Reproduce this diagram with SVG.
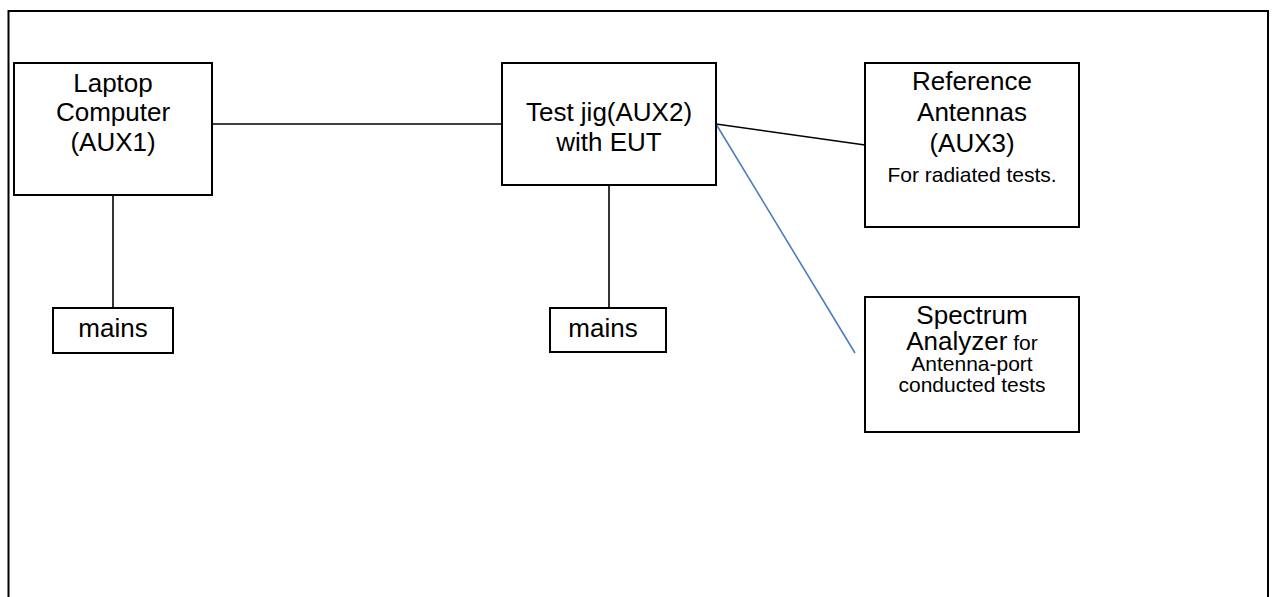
<svg xmlns="http://www.w3.org/2000/svg" width="1273" height="597" viewBox="0 0 1273 597">
<style>
.box{fill:#fff;stroke:#000;stroke-width:2}
.big{font-family:"Liberation Sans",Arial,sans-serif;font-size:26px;fill:#000;text-anchor:middle}
.sm{font-family:"Liberation Sans",Arial,sans-serif;font-size:21px;fill:#000;text-anchor:middle}
.ln{stroke:#000;stroke-width:1.6;fill:none}
.blue{stroke:#4a7ebb;stroke-width:1.6;fill:none}
</style>
<rect width="1273" height="597" fill="#fff"/>
<path d="M8.5,600 V11 H1268 V600" fill="none" stroke="#000" stroke-width="2"/>
<g id="connectors">
<line class="ln" x1="212" y1="124" x2="502" y2="124"/>
<line class="ln" x1="113" y1="195" x2="113" y2="308"/>
<line class="ln" x1="609" y1="185" x2="609" y2="308"/>
<line class="ln" x1="716" y1="124" x2="865" y2="145"/>
<line class="blue" x1="716" y1="124" x2="855" y2="353"/>
</g>
<g id="laptop">
<rect class="box" x="14" y="63" width="198" height="132"/>
<text class="big" x="113" y="91.5">Laptop</text>
<text class="big" x="113" y="121">Computer</text>
<text class="big" x="113" y="151">(AUX1)</text>
</g>
<g id="testjig">
<rect class="box" x="502" y="63" width="214" height="122"/>
<text class="big" x="609" y="121">Test jig(AUX2)</text>
<text class="big" x="609" y="151">with EUT</text>
</g>
<g id="antennas">
<rect class="box" x="865" y="63" width="214" height="164"/>
<text class="big" x="972" y="89.5">Reference</text>
<text class="big" x="972" y="121">Antennas</text>
<text class="big" x="972" y="151.5">(AUX3)</text>
<text class="sm" x="972" y="181.5">For radiated tests.</text>
</g>
<g id="spectrum">
<rect class="box" x="865" y="297" width="214" height="135"/>
<text class="big" x="972" y="324">Spectrum</text>
<text x="972" y="349.5" class="big"><tspan>Analyzer</tspan><tspan style="font-size:21px"> for</tspan></text>
<text class="sm" x="972" y="371">Antenna-port</text>
<text class="sm" x="972" y="392">conducted tests</text>
</g>
<g id="mains1">
<rect class="box" x="53" y="308" width="120" height="45"/>
<text class="big" x="113" y="337">mains</text>
</g>
<g id="mains2">
<rect class="box" x="550" y="308" width="116" height="44"/>
<text class="big" x="603" y="336.5">mains</text>
</g>
</svg>
